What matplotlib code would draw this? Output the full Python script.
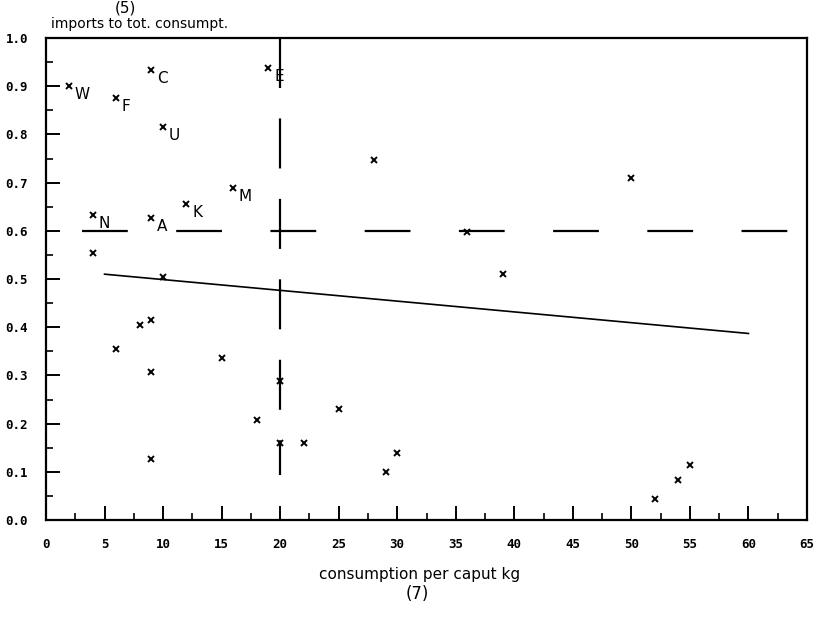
import matplotlib
matplotlib.use("Agg")
import matplotlib.pyplot as plt

# consumption per caput (kg) and share of imports in total consumption
cons = [2, 6, 9, 10, 19, 4, 9, 12, 16,
        4, 10, 28, 50, 36, 39, 6, 8, 9, 9, 15, 18, 20, 20, 22, 25, 29, 30, 9,
        52, 54, 55]
share = [0.90, 0.875, 0.934, 0.815, 0.938, 0.633, 0.627, 0.656, 0.689,
         0.554, 0.504, 0.747, 0.71, 0.598, 0.51, 0.355, 0.405, 0.415, 0.307,
         0.336, 0.207, 0.288, 0.16, 0.16, 0.23, 0.10, 0.139, 0.127,
         0.044, 0.083, 0.114]
names = ["W", "F", "C", "U", "E", "N", "A", "K", "M"] + [""] * 22

# regression line
fit_x = [5, 60]
fit_y = [0.51, 0.387]

# mean lines
mean_x = 20
mean_y = 0.6

fig = plt.figure(figsize=(8.2, 6.18), dpi=100)
ax = fig.add_axes([46/820, 98/618, 761/820, 482/618])

ax.plot(cons, share, "x", color="black", ms=5, mew=1.4)
for x, y, n in zip(cons, share, names):
    if n:
        ax.annotate(n, (x, y), xytext=(4, -6), textcoords="offset points",
                    ha="left", va="center", fontsize=11, color="black")

ax.plot(fit_x, fit_y, color="black", lw=1.2)
ax.plot([3.1, 63.8], [mean_y, mean_y], color="black", lw=1.6,
        dashes=(20.6, 21.8))
ax.plot([mean_x, mean_x], [1.0, 0.093], color="black", lw=1.6,
        dashes=(22.5, 13.7))

ax.set_xlim(0, 65)
ax.set_ylim(0, 1.0)
ax.set_xticks(range(0, 66, 5))
ax.set_xticks([x + 2.5 for x in range(0, 65, 5)], minor=True)
ax.set_yticks([i / 10 for i in range(11)])
ax.set_yticks([i / 10 + 0.05 for i in range(10)], minor=True)
ax.set_yticklabels([f"{i / 10:.1f}" for i in range(11)])
ax.tick_params(which="major", direction="in", length=10, width=1.4,
               labelsize=9, pad=13)
ax.tick_params(which="minor", direction="in", length=5, width=1.2)
for lab in ax.get_xticklabels() + ax.get_yticklabels():
    lab.set_family("DejaVu Sans Mono")
    lab.set_fontweight("bold")
for s in ax.spines.values():
    s.set_linewidth(1.6)

fig.text(125/820, 1 - 8/618, "(5)", ha="center", va="center", fontsize=11)
fig.text(51/820, 1 - 24/618, "imports to tot. consumpt.", ha="left",
         va="center", fontsize=10)
fig.text(420/820, 1 - 574/618, "consumption per caput kg", ha="center",
         va="center", fontsize=11)
fig.text(417/820, 1 - 594/618, "(7)", ha="center", va="center", fontsize=12)

fig.savefig("out.png", dpi=100)
